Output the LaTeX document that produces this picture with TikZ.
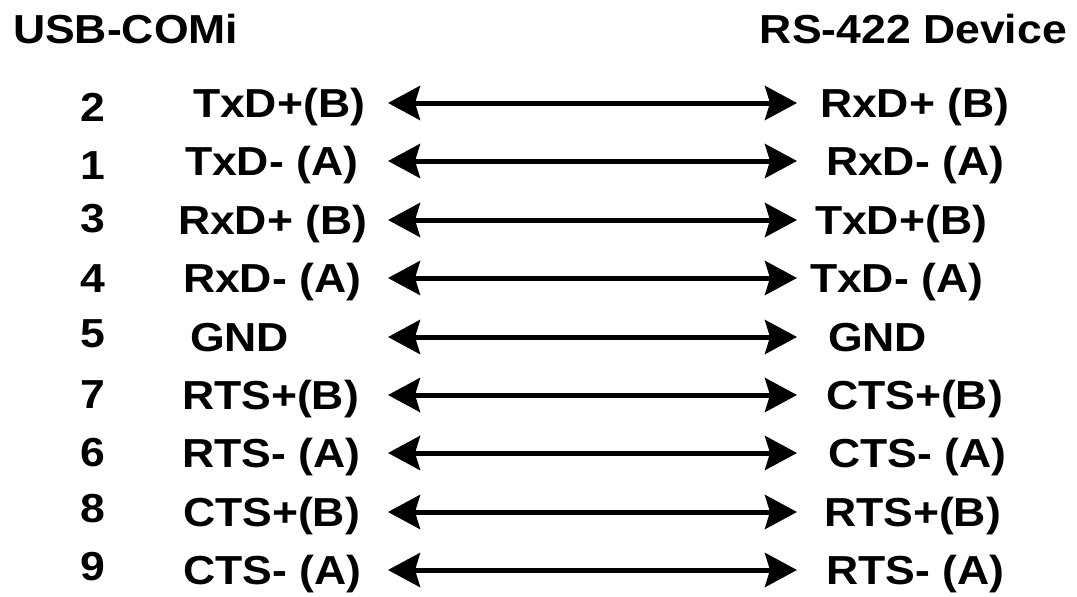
\documentclass[tikz,border=0pt]{standalone}
\usepackage{fontspec}
\setmainfont[FakeStretch=1.1]{Liberation Sans}
\usetikzlibrary{arrows.meta}
\tikzset{
  lbl/.style={inner sep=0pt, outer sep=0pt, font=\fontsize{40.5}{48}\selectfont\bfseries},
  wire/.style={line width=5pt, {Stealth[length=32pt,width=34pt,inset=5pt]}-{Stealth[length=32pt,width=34pt,inset=5pt]}}
}
\begin{document}
\begin{tikzpicture}[x=1pt,y=-1pt]
\useasboundingbox (0,0) rectangle (1077,597);
\node[lbl, anchor=base west] (hl) at (13,43) {USB-COMi};
\node[lbl, anchor=base east] (hr) at (1067,43) {RS-422 Device};
% rows: arrow y, digit baseline, digit, left x, left text, right x, right text
\foreach \k/\ay/\db/\d/\lx/\lt/\rx/\rt in {
  1/103/121/2/193/{TxD+(B)}/820/{RxD+ (B)},
  2/161/179/1/185/{TxD- (A)}/826/{RxD- (A)},
  3/220/232/3/178/{RxD+ (B)}/815/{TxD+(B)},
  4/278/292/4/183/{RxD- (A)}/810/{TxD- (A)},
  5/337/347/5/190/{GND}/828/{GND},
  6/395/408/7/182/{RTS+(B)}/826/{CTS+(B)},
  7/453/466/6/182/{RTS- (A)}/828/{CTS- (A)},
  8/512/522/8/183/{CTS+(B)}/824/{RTS+(B)},
  9/570/580/9/183/{CTS- (A)}/826/{RTS- (A)}}{
  \node[lbl, anchor=base] (n\k) at (93,\db) {\d};
  \node[lbl, anchor=base west] (l\k) at (\lx,\ay+14) {\lt};
  \node[lbl, anchor=base west] (r\k) at (\rx,\ay+14) {\rt};
  \coordinate (a\k) at (388,\ay);
  \coordinate (b\k) at (797,\ay);
  \draw[wire] (a\k) -- (b\k);
}
\end{tikzpicture}
\end{document}
